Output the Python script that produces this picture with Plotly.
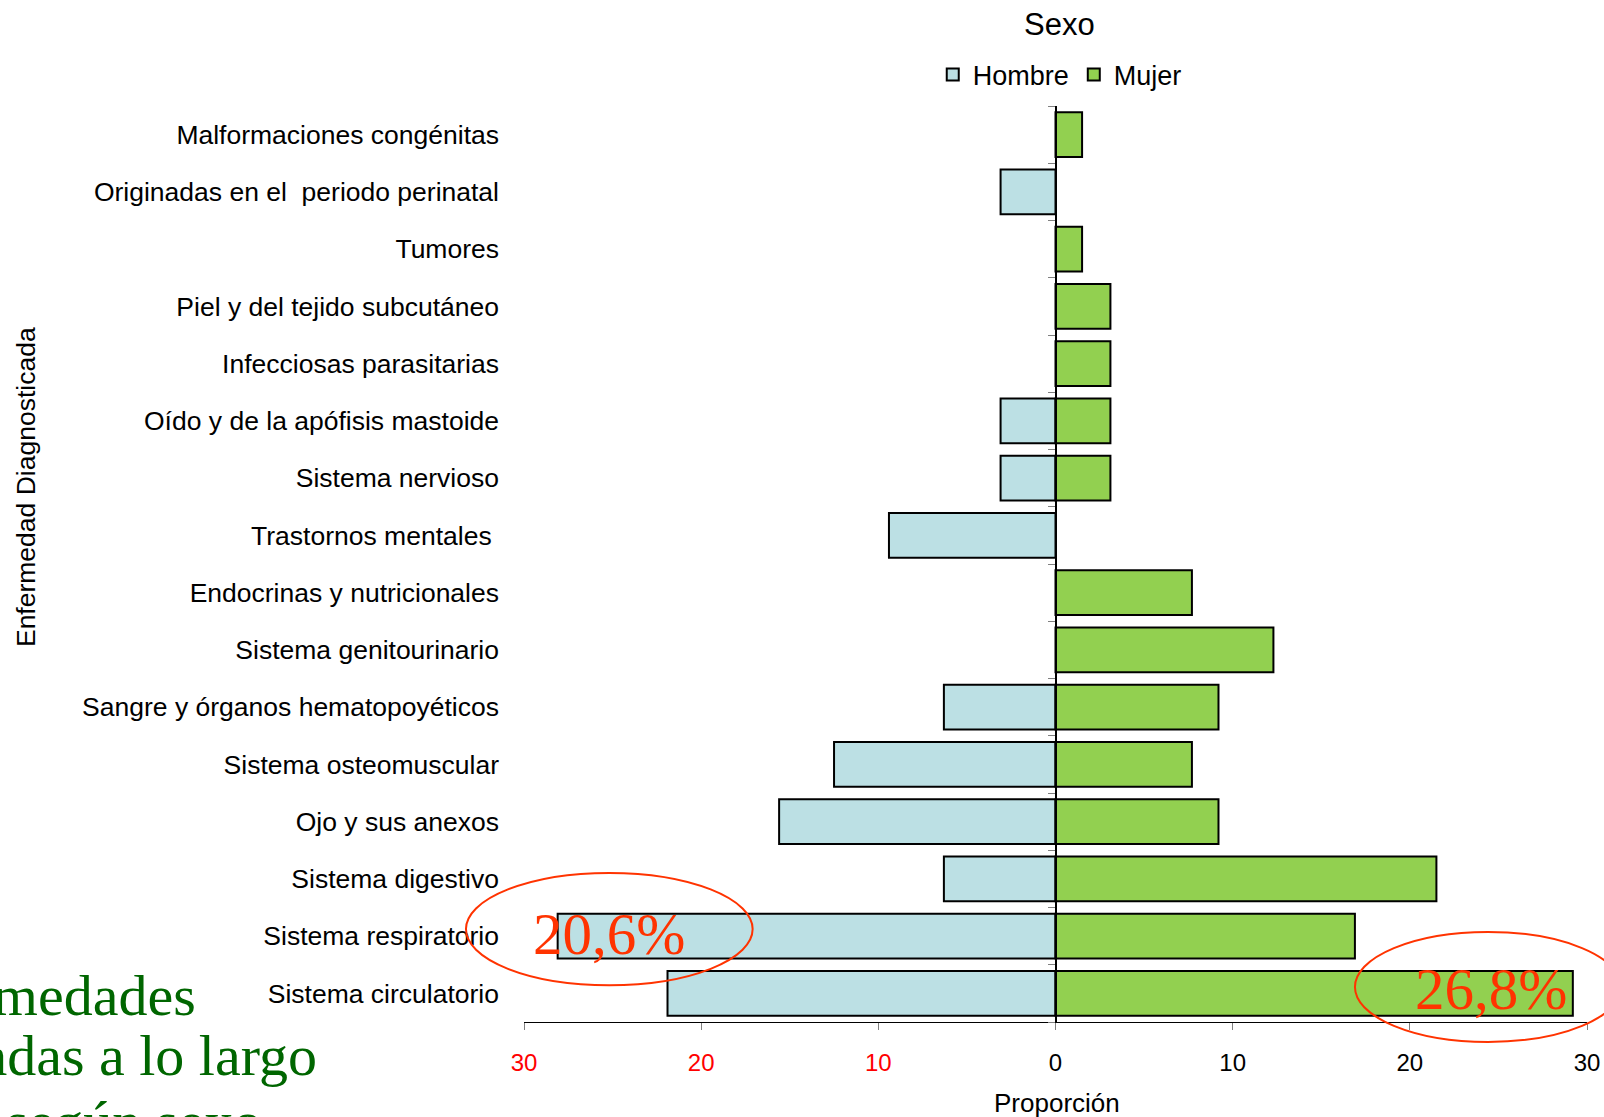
import plotly.graph_objects as go

categories = [
    "Malformaciones congénitas",
    "Originadas en el\u00a0 periodo perinatal",
    "Tumores",
    "Piel y del tejido subcutáneo",
    "Infecciosas parasitarias",
    "Oído y de la apófisis mastoide",
    "Sistema nervioso",
    "Trastornos mentales\u00a0",
    "Endocrinas y nutricionales",
    "Sistema genitourinario",
    "Sangre y órganos hematopoyéticos",
    "Sistema osteomuscular",
    "Ojo y sus anexos",
    "Sistema digestivo",
    "Sistema respiratorio",
    "Sistema circulatorio",
]
hombre = [None, 3.1, None, None, None, 3.1, 3.1, 9.4, None, None, 6.3, 12.5, 15.6, 6.3, 28.1, 21.9]
mujer = [1.5, None, 1.5, 3.1, 3.1, 3.1, 3.1, None, 7.7, 12.3, 9.2, 7.7, 9.2, 21.5, 16.9, 29.2]
tick_vals = [-30, -20, -10, 0, 10, 20, 30]
tick_text = ['<span style="color:#FF0000">30</span>', '<span style="color:#FF0000">20</span>',
             '<span style="color:#FF0000">10</span>', "0", "10", "20", "30"]

FONT = "Liberation Sans, Arial, sans-serif"
SERIF = "Liberation Serif, Times New Roman, serif"
RED = "#FF3300"
GREEN_TXT = "#006600"

fig = go.Figure()
fig.add_trace(go.Bar(
    name="Hombre", y=categories, x=[-v if v is not None else None for v in hombre],
    orientation="h", marker=dict(color="#BCE0E4", line=dict(color="black", width=2)),
    hoverinfo="skip",
))
fig.add_trace(go.Bar(
    name="Mujer", y=categories, x=mujer,
    orientation="h", marker=dict(color="#92D050", line=dict(color="black", width=2)),
    hoverinfo="skip",
))
# invisible trace to carry the central category axis
n = len(categories)
fig.add_trace(go.Scatter(x=[0], y=[0], yaxis="y2", mode="markers",
                         marker=dict(opacity=0), showlegend=False, hoverinfo="skip"))

fig.update_layout(
    width=1604, height=1117,
    margin=dict(l=524, r=17, t=106, b=95, autoexpand=False),
    paper_bgcolor="white", plot_bgcolor="white",
    barmode="relative", bargap=0.22,
    font=dict(family=FONT, color="black"),
    showlegend=True,
    legend=dict(orientation="h", x=0.504, xanchor="center", y=1.034, yanchor="middle",
                font=dict(size=27, family=FONT), traceorder="normal",
                bgcolor="rgba(0,0,0,0)"),
    xaxis=dict(range=[-30, 30], tickvals=tick_vals, ticktext=tick_text,
               showline=True, linecolor="black", linewidth=1,
               ticks="outside", ticklen=7, tickcolor="#808080",
               tickfont=dict(size=24, family=FONT), ticklabelstandoff=12,
               showgrid=False, zeroline=False, fixedrange=True, automargin=False),
    yaxis=dict(type="category", categoryorder="array", categoryarray=categories,
               range=[n - 0.5, -0.5], autorange=False,
               showgrid=False, zeroline=False, showline=False,
               ticks="", tickfont=dict(size=26.5, family=FONT), ticklabelstandoff=24,
               automargin=False),
    yaxis2=dict(overlaying="y", anchor="free", position=0.5, side="left",
                range=[n - 0.5, -0.5], autorange=False,
                tickvals=[i - 0.5 for i in range(n + 1)],
                ticks="outside", ticklen=7, tickcolor="#808080", showticklabels=False,
                showline=True, linecolor="black", linewidth=1.5,
                showgrid=False, zeroline=False, automargin=False),
)

annotations = [
    dict(text="Sexo", x=0.504, y=1.0885, xref="paper", yref="paper", showarrow=False,
         font=dict(size=31, family=FONT), xanchor="center", yanchor="middle"),
    dict(text="Enfermedad Diagnosticada", x=-0.4685, y=0.584, xref="paper", yref="paper",
         showarrow=False, textangle=-90, font=dict(size=26.5, family=FONT),
         xanchor="center", yanchor="middle"),
    dict(text="Proporción", x=0.5014, y=-0.0888, xref="paper", yref="paper",
         showarrow=False, font=dict(size=26, family=FONT), xanchor="center", yanchor="middle"),
    dict(text="20,6%", x=-25.2, y="Sistema respiratorio", xref="x", yref="y", showarrow=False,
         font=dict(size=59, family=SERIF, color=RED), xanchor="center", yanchor="middle",
         yshift=2),
    dict(text="26,8%", x=24.6, y="Sistema circulatorio", xref="x", yref="y", showarrow=False,
         font=dict(size=59, family=SERIF, color=RED), xanchor="center", yanchor="middle",
         yshift=4),
    dict(text="Enfermedades", x=-0.3065, y=0.0292, xref="paper", yref="paper", showarrow=False,
         font=dict(size=58, family=SERIF, color=GREEN_TXT), xanchor="right", yanchor="middle"),
    dict(text="diagnosticadas a lo largo", x=-0.1927, y=-0.0364, xref="paper", yref="paper",
         showarrow=False, font=dict(size=58, family=SERIF, color=GREEN_TXT),
         xanchor="right", yanchor="middle"),
    dict(text="según sexo", x=-0.2445, y=-0.1085, xref="paper", yref="paper", showarrow=False,
         font=dict(size=58, family=SERIF, color=GREEN_TXT), xanchor="right", yanchor="middle"),
]
fig.update_layout(annotations=annotations)

fig.add_shape(type="circle", xref="paper", yref="paper",
              x0=-0.0546, x1=0.2151, y0=0.0401, y1=0.1627,
              line=dict(color=RED, width=2))
fig.add_shape(type="circle", xref="paper", yref="paper",
              x0=0.7817, x1=1.032, y0=-0.0218, y1=0.0983,
              line=dict(color=RED, width=2))

fig.write_html("out.html", config={"displayModeBar": False},
               post_script="document.body.style.margin='0';document.body.style.overflow='hidden';")
